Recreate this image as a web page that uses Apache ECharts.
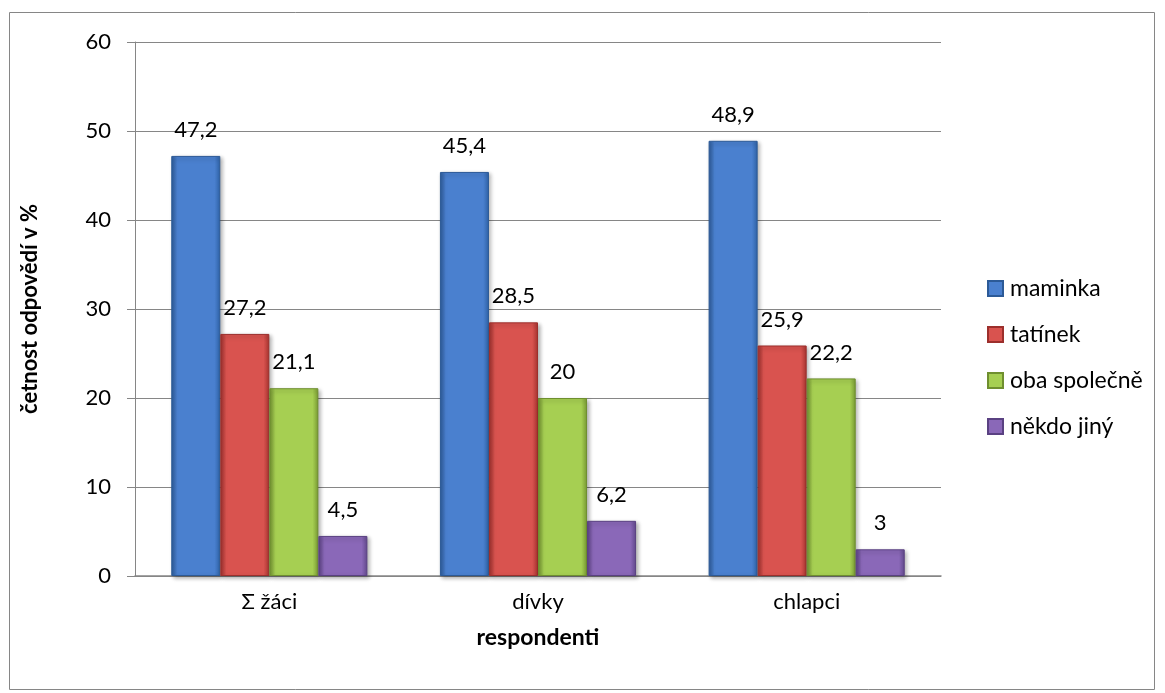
<!DOCTYPE html>
<html><head><meta charset="utf-8">
<script src="https://cdn.jsdelivr.net/npm/echarts@6/dist/echarts.min.js"></script>
<style>html,body{margin:0;padding:0;background:#fff}#c{width:1165px;height:693px}</style>
</head><body><div id="c"></div>
<script>
const categories = ['Σ žáci', 'dívky', 'chlapci'];
const seriesNames = ['maminka', 'tatínek', 'oba společně', 'někdo jiný'];
const maminka = [47.2, 45.4, 48.9];
const tatinek = [27.2, 28.5, 25.9];
const obaSpolecne = [21.1, 20, 22.2];
const nekdoJiny = [4.5, 6.2, 3];
const yTicks = [0, 10, 20, 30, 40, 50, 60];

const palettes = [
  ['#2c5a97', '#4a80cf', '#2f63a8'],
  ['#9c2f2c', '#d9534f', '#a83430'],
  ['#6f8f2f', '#a6cf52', '#7a9c34'],
  ['#5a4182', '#8a68b8', '#634a8e']
];
function grad(p) {
  return new echarts.graphic.LinearGradient(0, 0, 1, 0, [
    {offset: 0, color: p[0]}, {offset: 0.12, color: p[1]},
    {offset: 0.88, color: p[1]}, {offset: 1, color: p[2]}
  ]);
}
const dataArr = [maminka, tatinek, obaSpolecne, nekdoJiny];
const font = 'Lato, "Open Sans", sans-serif';
const chart = echarts.init(document.getElementById('c'));
chart.setOption({
  animation: false,
  graphic: [{type: 'rect', shape: {x: 9.5, y: 12.5, width: 1145, height: 677}, style: {fill: 'none', stroke: '#868686', lineWidth: 1}}],
  grid: {left: 135, right: 224, top: 42, bottom: 117},
  legend: {
    orient: 'vertical', left: 982, top: 272, itemGap: 23, itemWidth: 15, itemHeight: 15,
    icon: 'rect', textStyle: {fontSize: 23, lineHeight: 23, fontFamily: font, color: '#000', padding: [0, 0, 0, 2]},
    data: seriesNames
  },
  xAxis: {
    type: 'category', data: categories,
    axisLine: {lineStyle: {color: '#868686', width: 1.5}}, axisTick: {show: false},
    axisLabel: {fontSize: 22, fontFamily: font, color: '#000', margin: 15},
    name: 'respondenti', nameLocation: 'middle', nameGap: 50,
    nameTextStyle: {fontSize: 23, fontWeight: 'bold', fontFamily: font, color: '#000'}
  },
  yAxis: {
    type: 'value', min: 0, max: 60, interval: 10,
    axisLine: {show: true, lineStyle: {color: '#868686'}},
    axisTick: {show: true, length: 8, lineStyle: {color: '#868686'}},
    splitLine: {lineStyle: {color: '#868686'}},
    axisLabel: {fontSize: 22, fontFamily: font, color: '#000', margin: 24,
      formatter: v => yTicks.includes(v) ? String(v) : ''},
    name: 'četnost odpovědí v %', nameLocation: 'middle', nameGap: 94, nameRotate: 90,
    nameTextStyle: {fontSize: 22, fontWeight: 'bold', fontFamily: font, color: '#000'}
  },
  series: seriesNames.map((n, i) => ({
    name: n, type: 'bar', data: dataArr[i], barGap: '0%', barCategoryGap: '27%',
    itemStyle: {color: grad(palettes[i]), borderColor: palettes[i][0], borderWidth: 1,
      shadowColor: 'rgba(0,0,0,0.3)', shadowBlur: 4, shadowOffsetX: 2, shadowOffsetY: 2},
    label: {show: true, position: 'top', distance: 15, fontSize: 22, fontFamily: font, color: '#000',
      formatter: p => String(p.value).replace('.', ',')}
  }))
});
</script></body></html>
